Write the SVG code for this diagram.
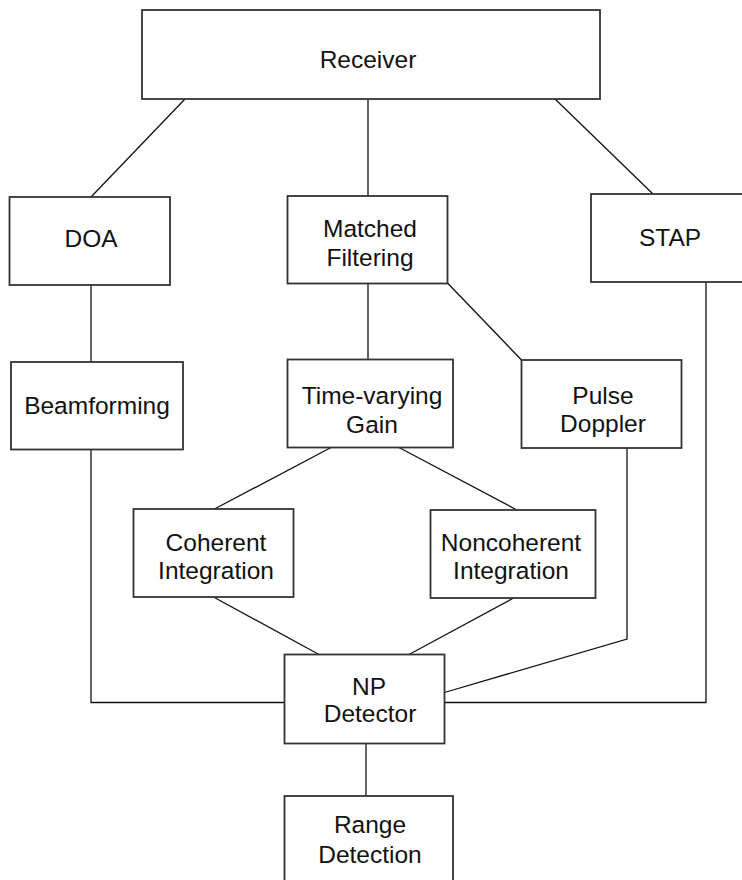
<svg xmlns="http://www.w3.org/2000/svg" width="742" height="880" viewBox="0 0 742 880">
<style>
.box{fill:#fff;stroke:#333;stroke-width:1.8}
.lbl{font-family:"Liberation Sans",Arial,sans-serif;font-size:24.5px;fill:#111;text-anchor:middle}
.cn{fill:none;stroke:#111;stroke-width:1.3}
</style>
<rect x="0" y="0" width="742" height="880" fill="#fff"/>
<g id="connectors">
<path class="cn" d="M185,99 L91,197"/>
<path class="cn" d="M368,99 V196"/>
<path class="cn" d="M555,99 L653,194"/>
<path class="cn" d="M91,285 V362"/>
<path class="cn" d="M368,283 V359.5"/>
<path class="cn" d="M447.5,283 L521.5,360"/>
<path class="cn" d="M331,447.5 L214.5,509"/>
<path class="cn" d="M399,447.5 L517,510"/>
<path class="cn" d="M213.5,597 L319,654.5"/>
<path class="cn" d="M513.5,598 L409,654.5"/>
<path class="cn" d="M91,449.5 V702.5 H284.5"/>
<path class="cn" d="M627,448 V639 L444.5,692.5"/>
<path class="cn" d="M706,282 V702.5 H444.5"/>
<path class="cn" d="M366,743.5 V796"/>
</g>
<g id="receiver"><rect class="box" x="142" y="10" width="458" height="89"/><text class="lbl" x="368" y="68">Receiver</text></g>
<g id="doa"><rect class="box" x="9.5" y="197" width="160.5" height="88"/><text class="lbl" x="91" y="247">DOA</text></g>
<g id="matched-filtering"><rect class="box" x="287.5" y="196" width="160" height="87.5"/><text class="lbl" x="370" y="237">Matched</text><text class="lbl" x="370" y="266">Filtering</text></g>
<g id="stap"><rect class="box" x="591" y="194" width="160" height="88"/><text class="lbl" x="670" y="246">STAP</text></g>
<g id="beamforming"><rect class="box" x="11" y="362" width="172" height="87.5"/><text class="lbl" x="97" y="414">Beamforming</text></g>
<g id="time-varying-gain"><rect class="box" x="287.5" y="359.5" width="165.5" height="88"/><text class="lbl" x="372" y="404">Time-varying</text><text class="lbl" x="372" y="433">Gain</text></g>
<g id="pulse-doppler"><rect class="box" x="521.5" y="360" width="160" height="88"/><text class="lbl" x="603" y="404">Pulse</text><text class="lbl" x="603" y="432">Doppler</text></g>
<g id="coherent-integration"><rect class="box" x="133.5" y="509" width="160" height="88"/><text class="lbl" x="216" y="551">Coherent</text><text class="lbl" x="216" y="579">Integration</text></g>
<g id="noncoherent-integration"><rect class="box" x="430.5" y="510" width="165" height="88"/><text class="lbl" x="511" y="551">Noncoherent</text><text class="lbl" x="511" y="579">Integration</text></g>
<g id="np-detector"><rect class="box" x="284.5" y="654.5" width="160" height="89"/><text class="lbl" x="369" y="695">NP</text><text class="lbl" x="370" y="722">Detector</text></g>
<g id="range-detection"><rect class="box" x="284.5" y="796" width="168.5" height="100"/><text class="lbl" x="370" y="833">Range</text><text class="lbl" x="370" y="863">Detection</text></g>
</svg>
